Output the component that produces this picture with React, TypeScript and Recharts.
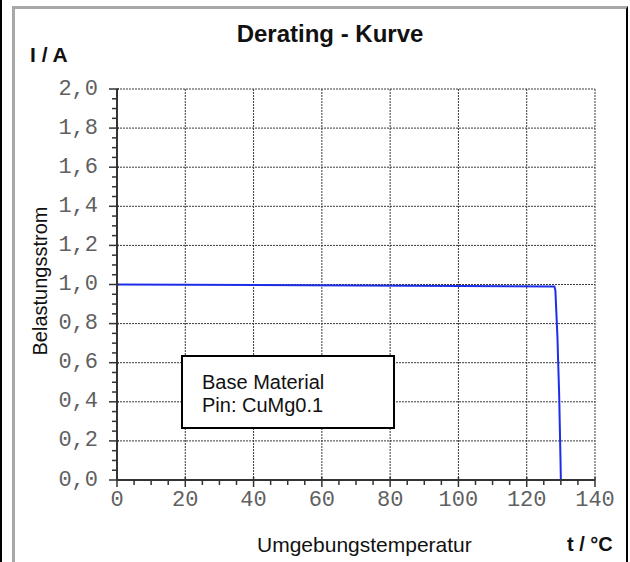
import React from 'react';
import { LineChart, Line, XAxis, YAxis, CartesianGrid } from 'recharts';

// Derating curve: ambient temperature (°C) vs load current (A)
const temperature = [0, 128.1, 128.4, 128.7, 129.0, 129.2, 129.5, 129.9, 130.0];
const current = [1.0, 0.99, 0.97, 0.85, 0.73, 0.61, 0.44, 0.1, 0.0];

const xMajorTicks = [0, 20, 40, 60, 80, 100, 120, 140];
const yMajorTicks = [0, 0.2, 0.4, 0.6, 0.8, 1.0, 1.2, 1.4, 1.6, 1.8, 2.0];
const xMinorStep = 5;
const yMinorStep = 0.05;

const xAllTicks = Array.from({ length: 140 / xMinorStep + 1 }, (_, i) => i * xMinorStep);
const yAllTicks = Array.from({ length: Math.round(2 / yMinorStep) + 1 }, (_, i) => +(i * yMinorStep).toFixed(2));

const data = temperature.map((t, i) => ({ t, i: current[i] }));

const isMajorY = (v: number) => yMajorTicks.some((m) => Math.abs(m - v) < 1e-6);
const isMajorX = (v: number) => xMajorTicks.includes(v);

const tickFont = { fontFamily: '"Liberation Mono", monospace', fontSize: 22, fill: '#606060' };
const axisColor = '#333';

const YTick = ({ x, y, payload }: any) => {
  const major = isMajorY(payload.value);
  return (
    <g>
      <line x1={x - (major ? 8 : 5)} x2={x + (major ? 2 : 0)} y1={y} y2={y} stroke={axisColor} strokeWidth={1.5} />
      {major && (
        <text x={x - 19} y={y} textAnchor="end" dominantBaseline="central" {...tickFont}>
          {payload.value.toFixed(1).replace('.', ',')}
        </text>
      )}
    </g>
  );
};

const XTick = ({ x, y, payload }: any) => {
  const major = isMajorX(payload.value);
  return (
    <g>
      <line x1={x} x2={x} y1={y - (major ? 3 : 0)} y2={y + (major ? 7 : 5)} stroke={axisColor} strokeWidth={1.5} />
      {major && (
        <text x={x} y={y + 20} textAnchor="middle" dominantBaseline="central" {...tickFont}>
          {payload.value}
        </text>
      )}
    </g>
  );
};

const sans = '"Liberation Sans", Arial, sans-serif';

export default function App() {
  return (
    <div style={{ position: 'absolute', left: 0, top: 0, width: 630, height: 562, background: '#fff', overflow: 'hidden' }}>
      <div style={{ position: 'absolute', left: 0, top: 0, width: 2, height: 562, background: '#000' }} />
      <div
        style={{
          position: 'absolute',
          left: 12,
          top: 6,
          width: 611,
          height: 600,
          borderLeft: '3px solid #a8a8a8',
          borderTop: '3px solid #a8a8a8',
          borderRight: '2px solid #000',
        }}
      />
      <LineChart width={630} height={562} data={data} margin={{ top: 89, right: 35, left: 57, bottom: 52 }}>
        <CartesianGrid
          stroke="#3a3a3a"
          strokeDasharray="2 1"
          horizontalValues={yMajorTicks.slice(1)}
          verticalValues={xMajorTicks.slice(1)}
        />
        <XAxis
          dataKey="t"
          type="number"
          domain={[0, 140]}
          ticks={xAllTicks}
          interval={0}
          tickLine={false}
          tickSize={0}
          tickMargin={0}
          height={30}
          axisLine={{ stroke: axisColor, strokeWidth: 2 }}
          tick={<XTick />}
        />
        <YAxis
          type="number"
          domain={[0, 2]}
          ticks={yAllTicks}
          interval={0}
          tickLine={false}
          tickSize={0}
          tickMargin={0}
          width={60}
          axisLine={{ stroke: axisColor, strokeWidth: 2 }}
          tick={<YTick />}
        />
        <Line
          type="linear"
          dataKey="i"
          stroke="#1c2ee8"
          strokeWidth={2}
          dot={false}
          isAnimationActive={false}
        />
      </LineChart>
      <div style={{ position: 'absolute', left: 0, width: 630, top: 20, textAlign: 'center', paddingLeft: 30, boxSizing: 'border-box', font: `bold 24px ${sans}`, color: '#111' }}>
        Derating - Kurve
      </div>
      <div style={{ position: 'absolute', left: 30, top: 43, font: `bold 21px ${sans}`, color: '#111' }}>I / A</div>
      <div
        style={{
          position: 'absolute',
          left: 40,
          top: 281,
          transform: 'translate(-50%, -50%) rotate(-90deg)',
          font: `20px ${sans}`,
          whiteSpace: 'nowrap',
          color: '#111',
        }}
      >
        Belastungsstrom
      </div>
      <div style={{ position: 'absolute', left: 257, top: 533, font: `21px ${sans}`, color: '#111', whiteSpace: 'nowrap' }}>
        Umgebungstemperatur
      </div>
      <div style={{ position: 'absolute', left: 567, top: 533, font: `bold 20px ${sans}`, color: '#111', whiteSpace: 'nowrap' }}>
        t / °C
      </div>
      <div
        style={{
          position: 'absolute',
          left: 181,
          top: 355,
          width: 214,
          height: 74,
          boxSizing: 'border-box',
          border: '2px solid #000',
          background: '#fff',
          padding: '14px 0 0 19px',
          font: `20px ${sans}`,
          lineHeight: '23px',
          color: '#111',
        }}
      >
        Base Material
        <br />
        Pin: CuMg0.1
      </div>
    </div>
  );
}
